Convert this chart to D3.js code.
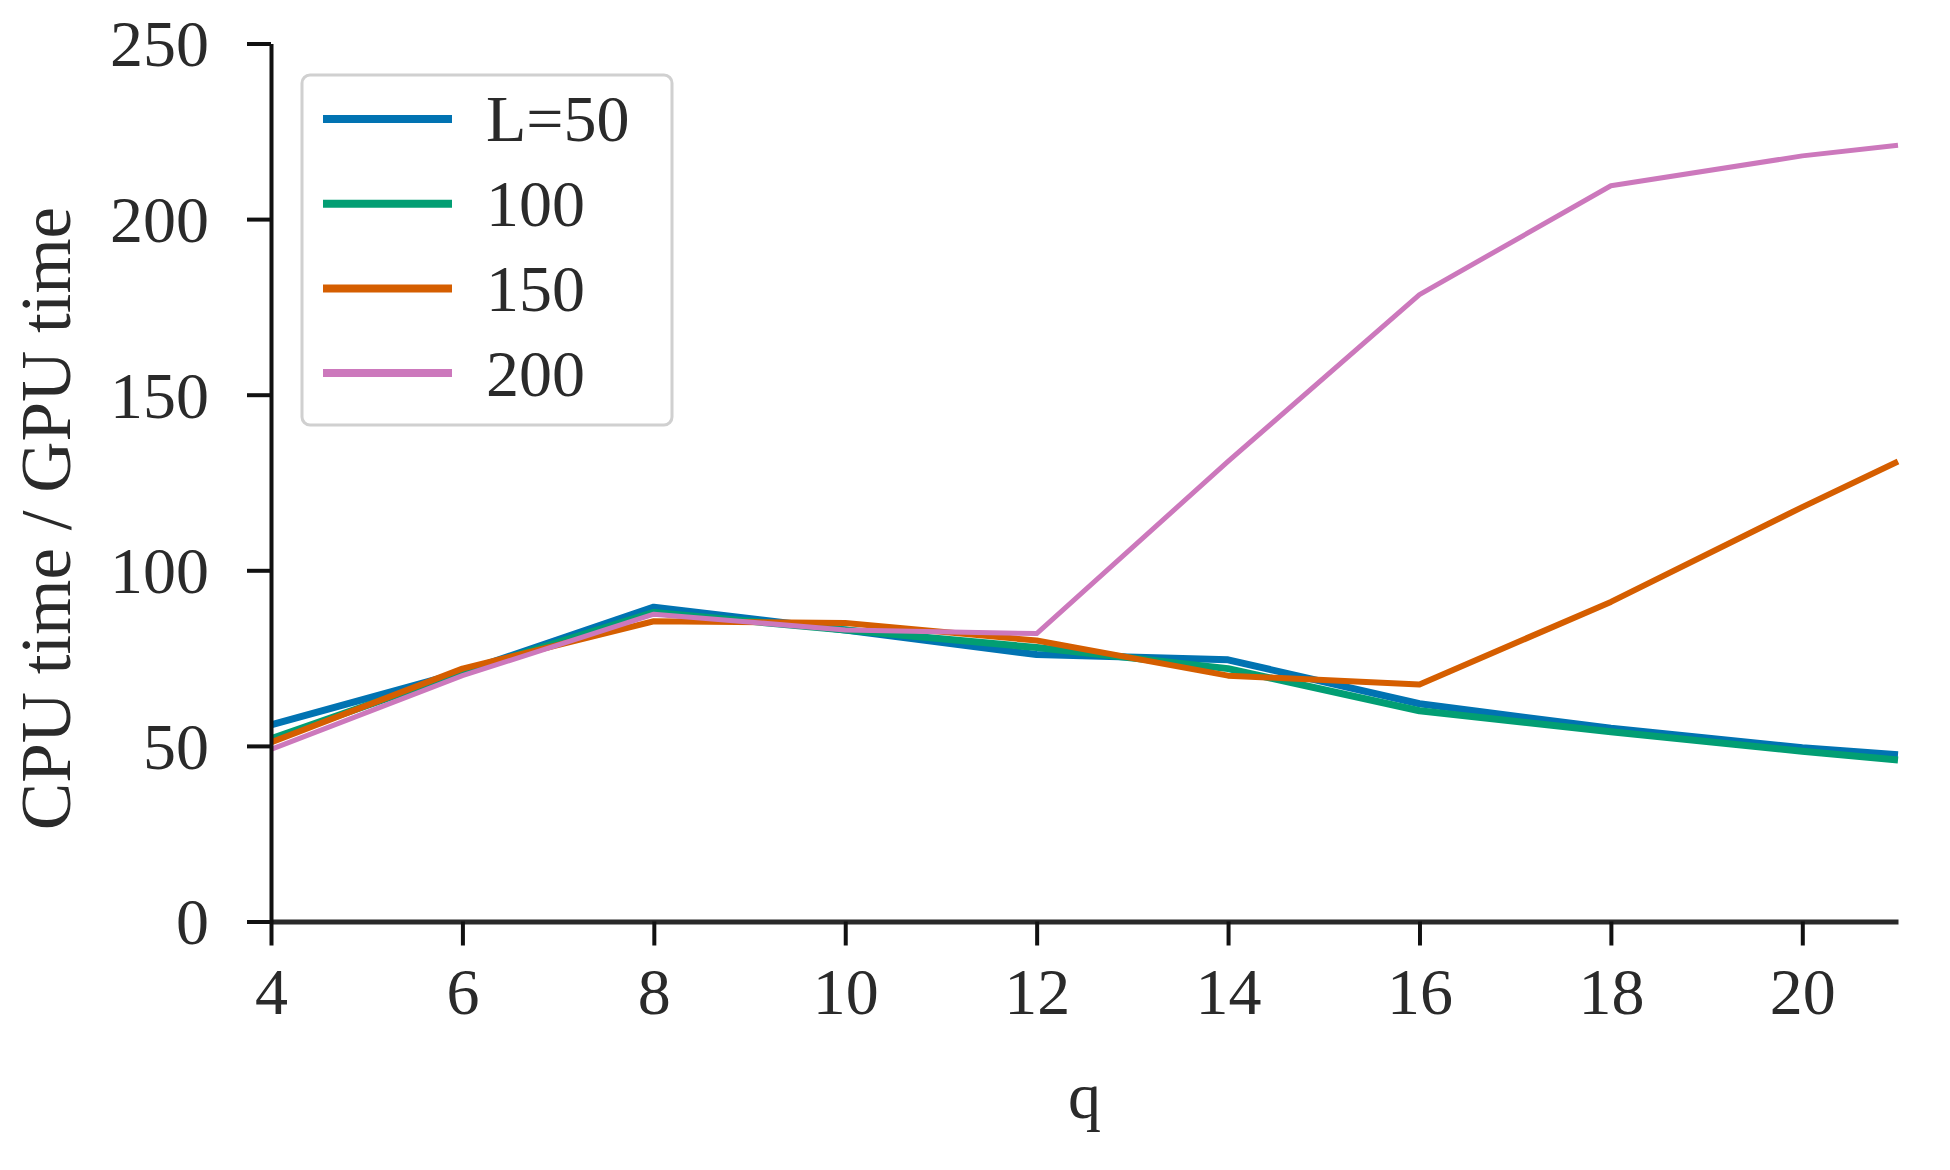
<!DOCTYPE html>
<html>
<head>
<meta charset="utf-8">
<script src="https://cdn.jsdelivr.net/npm/d3@7"></script>
<style>
  html, body { margin: 0; padding: 0; background: #fff; }
  svg text { font-family: "Liberation Serif", "DejaVu Serif", serif; fill: #2a2a2a; }
</style>
</head>
<body>
<svg id="chart" width="1950" height="1170"></svg>
<script>
const qValues = [4, 6, 8, 10, 12, 14, 16, 18, 20, 21];
const seriesNames = ["L=50", "100", "150", "200"];
const seriesColors = ["#0173b2", "#029e73", "#d55e00", "#cc78bc"];
const seriesWidths = [7, 7, 6, 5];
const valuesL50  = [56, 71, 89.5, 83, 76, 74.5, 62, 55, 49.5, 47.5];
const valuesL100 = [52, 71, 88, 83, 78, 72, 60, 54, 48.5, 46];
const valuesL150 = [51, 72, 85.5, 85, 80, 70, 67.5, 91, 118, 131];
const valuesL200 = [49, 70, 87.5, 83, 82, 131, 178.5, 209.5, 218, 221];
const xTicks = [4, 6, 8, 10, 12, 14, 16, 18, 20];
const yTicks = [0, 50, 100, 150, 200, 250];

const allValues = [valuesL50, valuesL100, valuesL150, valuesL200];

const svg = d3.select("#chart");
const margin = { left: 271, right: 52, top: 43.5, bottom: 248.5 };
const W = 1950, H = 1170;

const x = d3.scaleLinear().domain([4, 21]).range([margin.left, W - margin.right]);
const y = d3.scaleLinear().domain([0, 250]).range([H - margin.bottom, margin.top]);

const fontSize = 66;

// Lines
const line = d3.line().x(d => x(d[0])).y(d => y(d[1]));
allValues.forEach((vals, i) => {
  svg.append("path")
    .datum(qValues.map((q, j) => [q, vals[j]]))
    .attr("fill", "none")
    .attr("stroke", seriesColors[i])
    .attr("stroke-width", seriesWidths[i])
    .attr("stroke-linejoin", "round")
    .attr("stroke-linecap", "butt")
    .attr("d", line);
});

// X axis
const xAxis = svg.append("g")
  .attr("transform", `translate(0,${y(0)})`)
  .call(d3.axisBottom(x).tickValues(xTicks).tickSize(24).tickSizeOuter(0).tickPadding(22));
xAxis.select(".domain").attr("stroke", "#2a2a2a").attr("stroke-width", 5);
xAxis.selectAll(".tick line").attr("stroke", "#111").attr("stroke-width", 4);
xAxis.selectAll(".tick text").attr("font-size", fontSize).attr("fill", "#2a2a2a")
  .style("font-family", "'Liberation Serif', serif");

// Y axis
const yAxis = svg.append("g")
  .attr("transform", `translate(${x(4)},0)`)
  .call(d3.axisLeft(y).tickValues(yTicks).tickSize(24).tickSizeOuter(0).tickPadding(38));
yAxis.select(".domain").attr("stroke", "#111").attr("stroke-width", 4);
yAxis.selectAll(".tick line").attr("stroke", "#111").attr("stroke-width", 4);
yAxis.selectAll(".tick text").attr("font-size", fontSize).attr("fill", "#2a2a2a")
  .attr("dy", "0.34em")
  .style("font-family", "'Liberation Serif', serif");

// Axis labels
svg.append("text")
  .attr("x", x(12.5))
  .attr("y", 1118)
  .attr("text-anchor", "middle")
  .attr("font-size", fontSize)
  .text("q");

svg.append("text")
  .attr("transform", `translate(70,${(y(0) + y(250)) / 2 + 36}) rotate(-90)`)
  .attr("text-anchor", "middle")
  .attr("font-size", 71)
  .text("CPU time / GPU time");

// Legend
const legend = svg.append("g");
legend.append("rect")
  .attr("x", 302).attr("y", 75)
  .attr("width", 370).attr("height", 350)
  .attr("rx", 8)
  .attr("fill", "#fff")
  .attr("stroke", "#d0d0d0")
  .attr("stroke-width", 3);

seriesNames.forEach((name, i) => {
  const ly = 119 + i * 84.7;
  legend.append("line")
    .attr("x1", 323).attr("x2", 452)
    .attr("y1", ly).attr("y2", ly)
    .attr("stroke", seriesColors[i])
    .attr("stroke-width", 8);
  legend.append("text")
    .attr("x", 486)
    .attr("y", ly)
    .attr("dy", "0.34em")
    .attr("font-size", fontSize)
    .text(name);
});
</script>
</body>
</html>
